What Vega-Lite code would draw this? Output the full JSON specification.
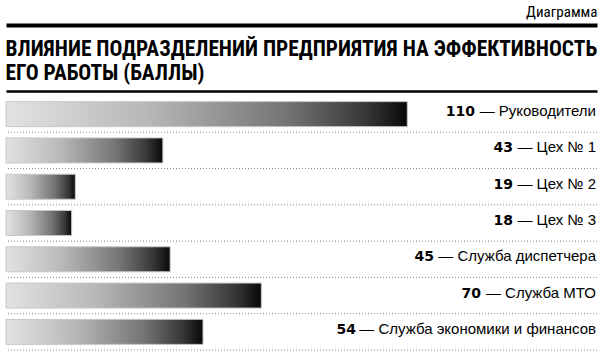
{
  "$schema": "https://vega.github.io/schema/vega-lite/v6.json",
  "width": 591,
  "height": 254,
  "autosize": {"type": "none"},
  "padding": {"left": 6, "top": 96, "right": 3, "bottom": 6},
  "background": "white",
  "config": {"view": {"stroke": null}},
  "data": {
    "values": [
      {"name": "Руководители", "v": 110},
      {"name": "Цех № 1", "v": 43},
      {"name": "Цех № 2", "v": 19},
      {"name": "Цех № 3", "v": 18},
      {"name": "Служба диспетчера", "v": 45},
      {"name": "Служба МТО", "v": 70},
      {"name": "Служба экономики и финансов", "v": 54}
    ]
  },
  "resolve": {"axis": {"x": "independent"}},
  "layer": [
    {
      "mark": {"type": "rule", "strokeDash": [1, 2], "color": "#8a8a8a", "strokeWidth": 1},
      "encoding": {
        "y": {"field": "name", "type": "nominal", "sort": null, "bandPosition": 1, "axis": null, "scale": {"paddingInner": 0, "paddingOuter": 0}}
      }
    },
    {
      "mark": {
        "type": "bar",
        "height": {"band": 0.69},
        "fill": {
          "gradient": "linear", "x1": 0, "y1": 0, "x2": 1, "y2": 0,
          "stops": [
            {"offset": 0, "color": "#e2e2e2"},
            {"offset": 0.35, "color": "#b8b8b8"},
            {"offset": 0.7, "color": "#747474"},
            {"offset": 0.9, "color": "#363636"},
            {"offset": 1, "color": "#080808"}
          ]
        },
        "stroke": "#c8c8c8",
        "strokeWidth": 1
      },
      "encoding": {
        "y": {"field": "name", "type": "nominal", "sort": null, "axis": null, "scale": {"paddingInner": 0, "paddingOuter": 0}},
        "x": {
          "field": "v", "type": "quantitative",
          "scale": {"domain": [0, 162], "nice": false, "zero": true},
          "axis": {
            "orient": "top", "offset": 5, "labels": false, "ticks": false, "grid": false,
            "domain": true, "domainColor": "#000", "domainWidth": 2.5, "domainOpacity": 1,
            "title": ["ВЛИЯНИЕ ПОДРАЗДЕЛЕНИЙ ПРЕДПРИЯТИЯ НА ЭФФЕКТИВНОСТЬ", "ЕГО РАБОТЫ (БАЛЛЫ)"],
            "titleFont": "Roboto Condensed",
            "titleFontWeight": "bold", "titleFontSize": 21.4, "titleColor": "#000",
            "titleAnchor": "start", "titleAlign": "left", "titleBaseline": "alphabetic",
            "titleAngle": 0, "titleX": -1, "titleY": -36, "titleLineHeight": 24.5
          }
        }
      }
    },
    {
      "mark": {
        "type": "text", "align": "right", "baseline": "alphabetic", "dy": 2, "dx": -1,
        "font": "Liberation Sans", "fontSize": 15, "color": "#000",
        "text": {"expr": "'— ' + datum.name"}
      },
      "encoding": {
        "y": {"field": "name", "type": "nominal", "sort": null, "axis": null, "scale": {"paddingInner": 0, "paddingOuter": 0}},
        "x": {
          "datum": 162, "type": "quantitative",
          "axis": {
            "orient": "top", "offset": 71, "labels": false, "ticks": false, "grid": false,
            "domain": true, "domainColor": "#000", "domainWidth": 4, "domainOpacity": 1,
            "title": "Диаграмма",
            "titleFont": "Roboto Condensed",
            "titleFontWeight": "normal", "titleFontSize": 15, "titleColor": "#000",
            "titleAnchor": "end", "titleAlign": "right", "titleBaseline": "alphabetic",
            "titleAngle": 0, "titleY": -9
          }
        }
      }
    },
    {
      "mark": {
        "type": "text", "align": "right", "baseline": "alphabetic", "dy": 2,
        "font": "DejaVu Sans", "fontWeight": "bold", "fontSize": 14, "color": "#000",
        "dx": {"expr": "-({'Руководители': 122, 'Цех № 1': 84, 'Цех № 2': 84, 'Цех № 3': 84, 'Служба диспетчера': 163, 'Служба МТО': 116, 'Служба экономики и финансов': 241})[datum.name]"}
      },
      "encoding": {
        "y": {"field": "name", "type": "nominal", "sort": null, "axis": null, "scale": {"paddingInner": 0, "paddingOuter": 0}},
        "x": {"datum": 162, "type": "quantitative", "axis": null},
        "text": {"field": "v", "type": "quantitative"}
      }
    }
  ]
}
